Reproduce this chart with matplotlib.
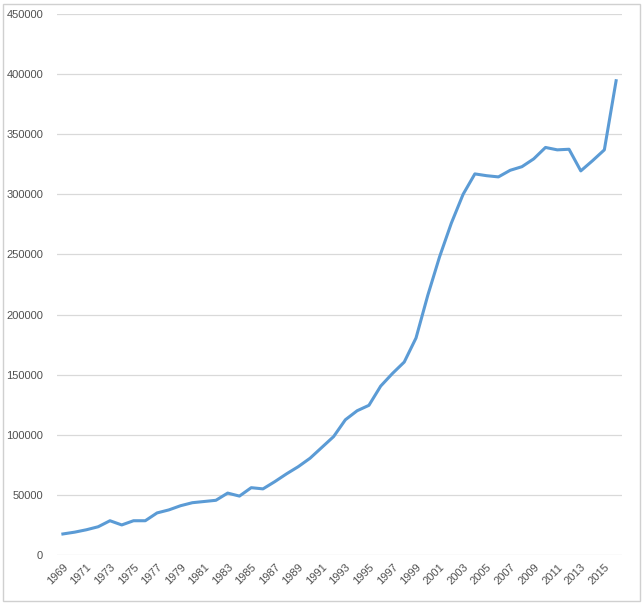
import matplotlib
matplotlib.use('Agg')
import matplotlib.pyplot as plt
import numpy as np

years=list(range(1969,2017))
values=[17500,19000,21000,23500,28500,25000,28500,28500,35000,37500,
        41000,43500,44500,45500,51500,49000,56000,55000,61000,67500,
        73500,80500,89500,98500,112500,120000,124500,140500,151000,160500,
        180500,216000,248000,276000,300000,317000,315500,314500,320000,323000,
        329500,339000,337000,337500,319500,328000,337000,394500]
yticks=list(range(0,450001,50000))

plt.rcParams['font.family']=['Liberation Sans','DejaVu Sans']

fig=plt.figure(figsize=(6.44,6.04),dpi=100)
ax=fig.add_axes([57/644,1-555/604,(622-57)/644,(555-14)/604])

x=np.arange(len(years))
ax.plot(x,values,color='#5b9bd5',lw=2.2,solid_joinstyle='round',zorder=3)

ax.set_xlim(-0.5,len(years)-0.5)
ax.set_ylim(0,450000)
ax.set_yticks(yticks)
ax.set_yticklabels([str(v) for v in yticks])
ax.set_xticks(x[::2])
ax.set_xticklabels([str(y) for y in years[::2]],rotation=45,ha='right',va='top',rotation_mode='anchor')
ax.grid(axis='y',color='#d9d9d9',lw=0.9)
ax.set_axisbelow(True)
for s in ax.spines.values():
    s.set_visible(False)
ax.tick_params(length=0,colors='#505050',labelsize=8)
ax.tick_params(axis='y',pad=10)
ax.tick_params(axis='x',pad=5)

# chart border
fig.patches.append(plt.Rectangle((3/644,3/604),637/644,597/604,transform=fig.transFigure,
                                 fill=False,ec='#d0d0d0',lw=1))

fig.savefig('out.png',dpi=100)
